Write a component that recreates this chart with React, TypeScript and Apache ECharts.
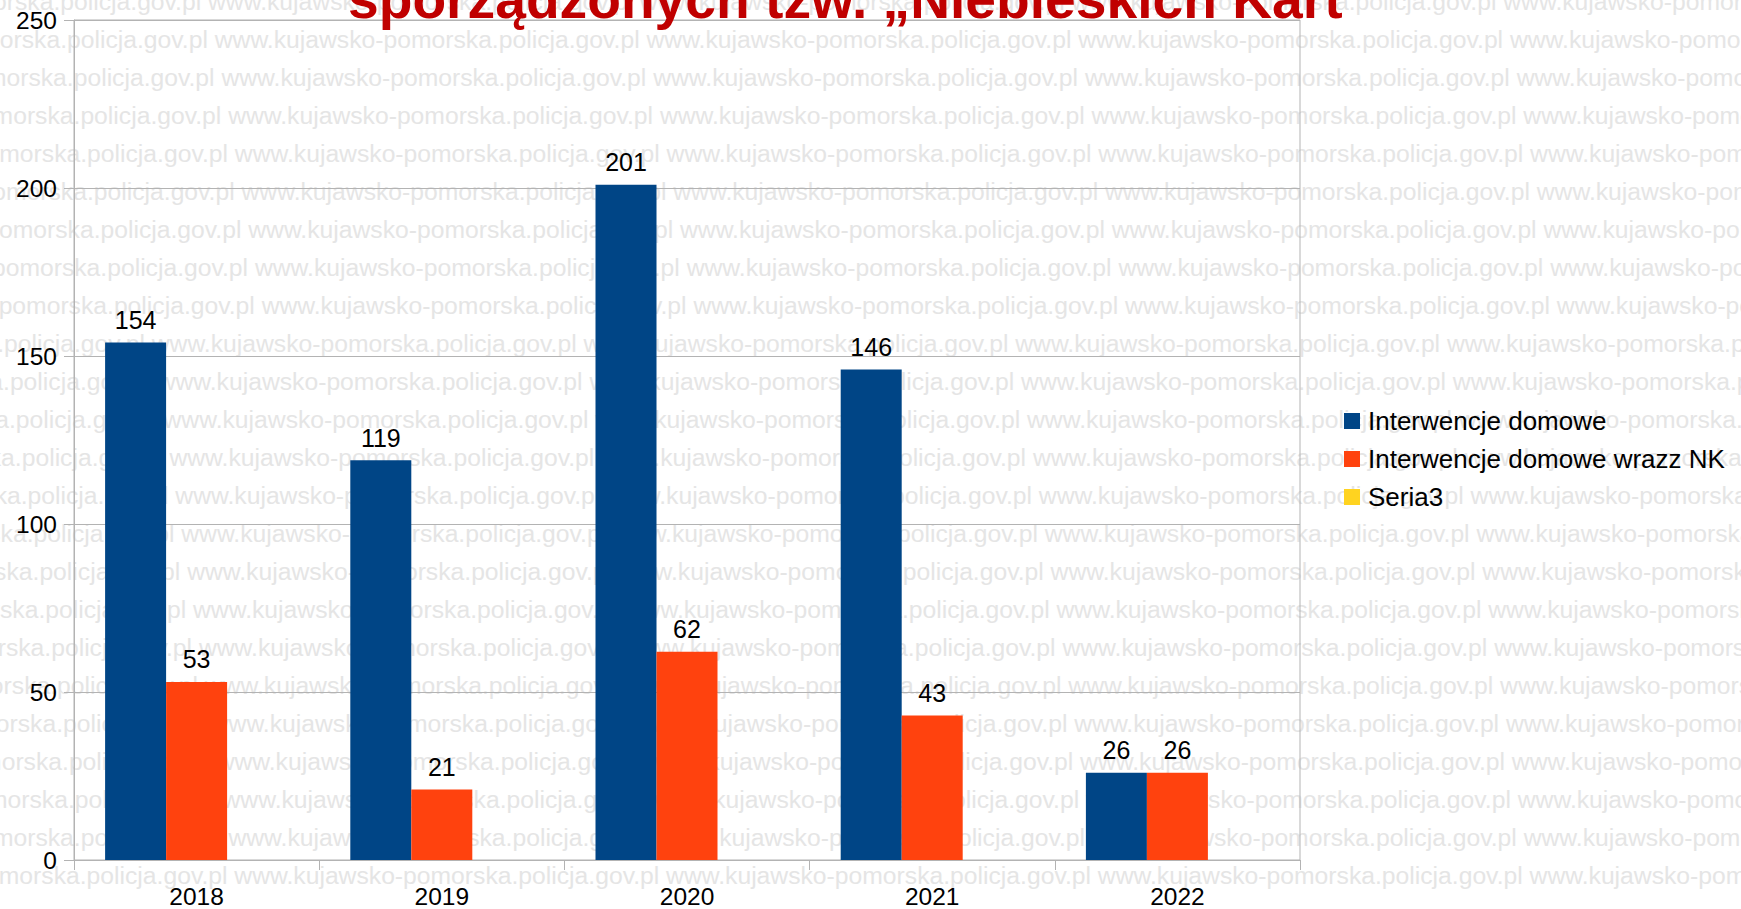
import React, { useEffect, useRef } from "react";
import * as echarts from "echarts";

const categories = ["2018", "2019", "2020", "2021", "2022"];
const interwencjeDomowe = [154, 119, 201, 146, 26];
const interwencjeNK = [53, 21, 62, 43, 26];
const seria3: (number | null)[] = [null, null, null, null, null];
const seriesNames = ["Interwencje domowe", "Interwencje domowe wrazz NK", "Seria3"];
const yTicks = { min: 0, max: 250, interval: 50 };
const titleText = "sporządzonych tzw. „Niebieskich Kart";
const watermarkText = "www.kujawsko-pomorska.policja.gov.pl ";

const FONT = '"Liberation Sans", Arial, sans-serif';

function buildWatermark() {
  const els: any[] = [];
  const period = 440;
  for (let i = -1; i <= 22; i++) {
    const off = i < 8 ? 223 + 6.7 * i : 160 + 5.9 * (i - 8);
    const startX = off - period;
    els.push({
      type: "text",
      x: startX,
      y: 39.5 + 38.0 * i,
      z: -10,
      silent: true,
      style: {
        text: watermarkText.repeat(5),
        fill: "#e5e5e5",
        fontSize: 24.7,
        fontFamily: FONT,
        verticalAlign: "middle",
        align: "left",
      },
    });
  }
  return els;
}

export default function App() {
  const ref = useRef<HTMLDivElement>(null);
  useEffect(() => {
    if (!ref.current) return;
    const chart = echarts.init(ref.current, null, { renderer: "svg" });
    const labelStyle = {
      show: true,
      position: "top" as const,
      distance: 10,
      color: "#000",
      fontSize: 25,
      fontFamily: FONT,
    };
    chart.setOption({
      animation: false,
      backgroundColor: "#ffffff",
      graphic: [
        ...buildWatermark(),
        {
          type: "text",
          x: 348,
          y: -1,
          z: 10,
          style: {
            text: titleText,
            fill: "#c00000",
            fontSize: 55.2,
            fontWeight: "bold",
            fontFamily: FONT,
            verticalAlign: "middle",
            align: "left",
          },
        },
      ],
      grid: {
        left: 74,
        right: 441,
        top: 20,
        bottom: 45,
        show: true,
        borderColor: "#b3b3b3",
        borderWidth: 1,
        backgroundColor: "transparent",
      },
      legend: {
        orient: "vertical",
        left: 1344,
        top: 407,
        itemWidth: 16,
        itemHeight: 16,
        itemGap: 10,
        icon: "rect",
        padding: 0,
        data: seriesNames,
        textStyle: {
          fontSize: 26,
          lineHeight: 28,
          color: "#000",
          fontFamily: FONT,
          padding: [0, 0, 0, 3],
        },
      },
      xAxis: {
        type: "category",
        data: categories,
        boundaryGap: true,
        axisLine: { lineStyle: { color: "#b3b3b3", width: 1 } },
        axisTick: { show: true, length: 10, interval: 0, lineStyle: { color: "#b3b3b3" } },
        axisLabel: { color: "#000", fontSize: 24.5, fontFamily: FONT, margin: 24 },
        splitLine: { show: false },
      },
      yAxis: {
        type: "value",
        min: yTicks.min,
        max: yTicks.max,
        interval: yTicks.interval,
        axisLine: { show: true, lineStyle: { color: "#b3b3b3", width: 1 } },
        axisTick: { show: true, length: 10, lineStyle: { color: "#b3b3b3" } },
        axisLabel: { color: "#000", fontSize: 24.5, fontFamily: FONT, margin: 17 },
        splitLine: { show: true, lineStyle: { color: "#b3b3b3", width: 1 } },
      },
      series: [
        {
          name: seriesNames[0],
          type: "bar",
          data: interwencjeDomowe,
          barWidth: 61,
          barGap: "0%",
          itemStyle: { color: "#004586" },
          label: labelStyle,
        },
        {
          name: seriesNames[1],
          type: "bar",
          data: interwencjeNK,
          barWidth: 61,
          barGap: "0%",
          itemStyle: { color: "#ff420e" },
          label: labelStyle,
        },
        {
          name: seriesNames[2],
          type: "bar",
          data: seria3,
          barWidth: 61,
          barGap: "0%",
          itemStyle: { color: "#ffd320" },
          label: labelStyle,
        },
      ],
    });
    return () => chart.dispose();
  }, []);
  return (
    <div
      ref={ref}
      style={{ position: "fixed", left: 0, top: 0, width: 1741, height: 909 }}
    />
  );
}
